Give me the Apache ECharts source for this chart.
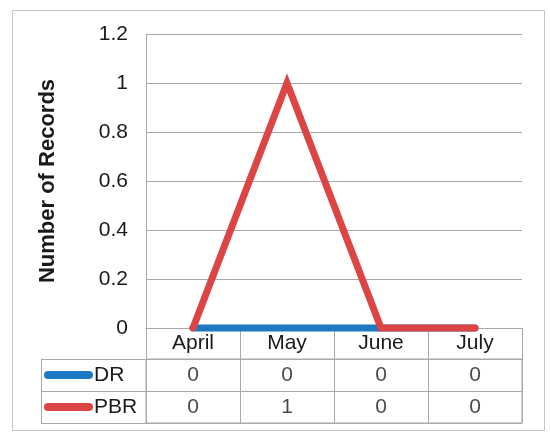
<!DOCTYPE html>
<html>
<head>
<meta charset="utf-8">
<script src="https://cdn.jsdelivr.net/npm/echarts@6/dist/echarts.min.js"></script>
<style>
html,body{margin:0;padding:0;background:#fff;}
#c{width:550px;height:436px;}
</style>
</head>
<body>
<div id="c"></div>
<script>
const categories = ['April', 'May', 'June', 'July'];
const drValues = [0, 0, 0, 0];
const pbrValues = [0, 1, 0, 0];
const seriesNames = ['DR', 'PBR'];
const yMin = 0, yMax = 1.2, yStep = 0.2;
const yTitle = 'Number of Records';

const FONT = 'Arial, "Liberation Sans", sans-serif';
const BLUE = '#1f78c4';
const RED = '#dc4545';
const GRID = '#a9a9a9';
const FS = 21;

const tableRows = [drValues, pbrValues];
const tableData = [];
tableRows.forEach((vals, r) => {
  vals.forEach((v, c) => tableData.push([categories[c], seriesNames[r], v]));
});

const chart = echarts.init(document.getElementById('c'), null, {renderer: 'canvas'});
chart.setOption({
  animation: false,
  backgroundColor: '#fff',
  textStyle: {fontFamily: FONT},
  graphic: [{
    type: 'rect', left: 10, top: 8, z: -10,
    shape: {width: 532, height: 420},
    style: {fill: 'none', stroke: '#c4c4c4', lineWidth: 1}
  }],
  grid: [
    {left: 146, right: 28, top: 34, bottom: 108},
    {left: 146, right: 28, top: 359, bottom: 13, show: true, borderColor: GRID, borderWidth: 1}
  ],
  xAxis: [
    {
      gridIndex: 0, type: 'category', data: categories, boundaryGap: true,
      axisLine: {show: true, lineStyle: {color: GRID, width: 1}},
      axisTick: {show: true, interval: 0, length: 31, lineStyle: {color: GRID}},
      axisLabel: {interval: 0, margin: 5, fontSize: FS, color: '#1a1a1a', fontFamily: FONT},
      splitLine: {show: false}
    },
    {
      gridIndex: 1, type: 'category', data: categories, boundaryGap: true,
      axisLine: {show: false}, axisTick: {show: false}, axisLabel: {show: false},
      splitLine: {show: true, interval: 0, lineStyle: {color: GRID, width: 1}}
    }
  ],
  yAxis: [
    {
      gridIndex: 0, type: 'value', min: yMin, max: yMax, interval: yStep,
      name: yTitle, nameLocation: 'middle', nameGap: 87,
      nameTextStyle: {fontSize: 22, fontWeight: 'bold', color: '#1a1a1a', fontFamily: FONT},
      axisLine: {show: true, lineStyle: {color: GRID, width: 1}},
      axisTick: {show: false},
      axisLabel: {margin: 18, fontSize: FS, color: '#1a1a1a', fontFamily: FONT},
      splitLine: {show: true, lineStyle: {color: GRID, width: 1}}
    },
    {
      gridIndex: 1, type: 'category', data: seriesNames, inverse: true, boundaryGap: true,
      axisLine: {show: false},
      axisTick: {show: true, interval: 0, length: 105, lineStyle: {color: GRID}},
      axisLabel: {
        interval: 0, margin: 102, align: 'left',
        formatter: function (v) { return (v === 'DR' ? '{b| }' : '{r| }') + '{t|' + v + '}'; },
        rich: {
          b: {width: 49, height: 8, backgroundColor: BLUE, borderRadius: 4},
          r: {width: 49, height: 8, backgroundColor: RED, borderRadius: 4},
          t: {fontSize: FS, color: '#1a1a1a', fontFamily: FONT, padding: [0, 0, 0, 1]}
        }
      },
      splitLine: {show: true, interval: 0, lineStyle: {color: GRID, width: 1}}
    },
    {
      gridIndex: 1, type: 'category', data: seriesNames, inverse: true, position: 'left', offset: 105,
      axisLine: {show: true, lineStyle: {color: GRID, width: 1}},
      axisTick: {show: false}, axisLabel: {show: false}, splitLine: {show: false}
    }
  ],
  series: [
    {
      name: 'DR', type: 'line', xAxisIndex: 0, yAxisIndex: 0, data: drValues,
      symbol: 'none', clip: false, z: 3,
      lineStyle: {color: BLUE, width: 7, cap: 'round', join: 'miter'}
    },
    {
      name: 'PBR', type: 'line', xAxisIndex: 0, yAxisIndex: 0, data: pbrValues,
      symbol: 'none', clip: false, z: 4,
      lineStyle: {color: RED, width: 7, cap: 'round', join: 'miter'}
    },
    {
      type: 'scatter', xAxisIndex: 1, yAxisIndex: 1, data: tableData,
      symbolSize: 1, itemStyle: {color: 'rgba(0,0,0,0)'},
      label: {
        show: true, position: 'inside', fontSize: FS, color: '#1a1a1a', fontFamily: FONT,
        formatter: function (p) { return String(p.value[2]); }
      }
    }
  ]
});
</script>
</body>
</html>
